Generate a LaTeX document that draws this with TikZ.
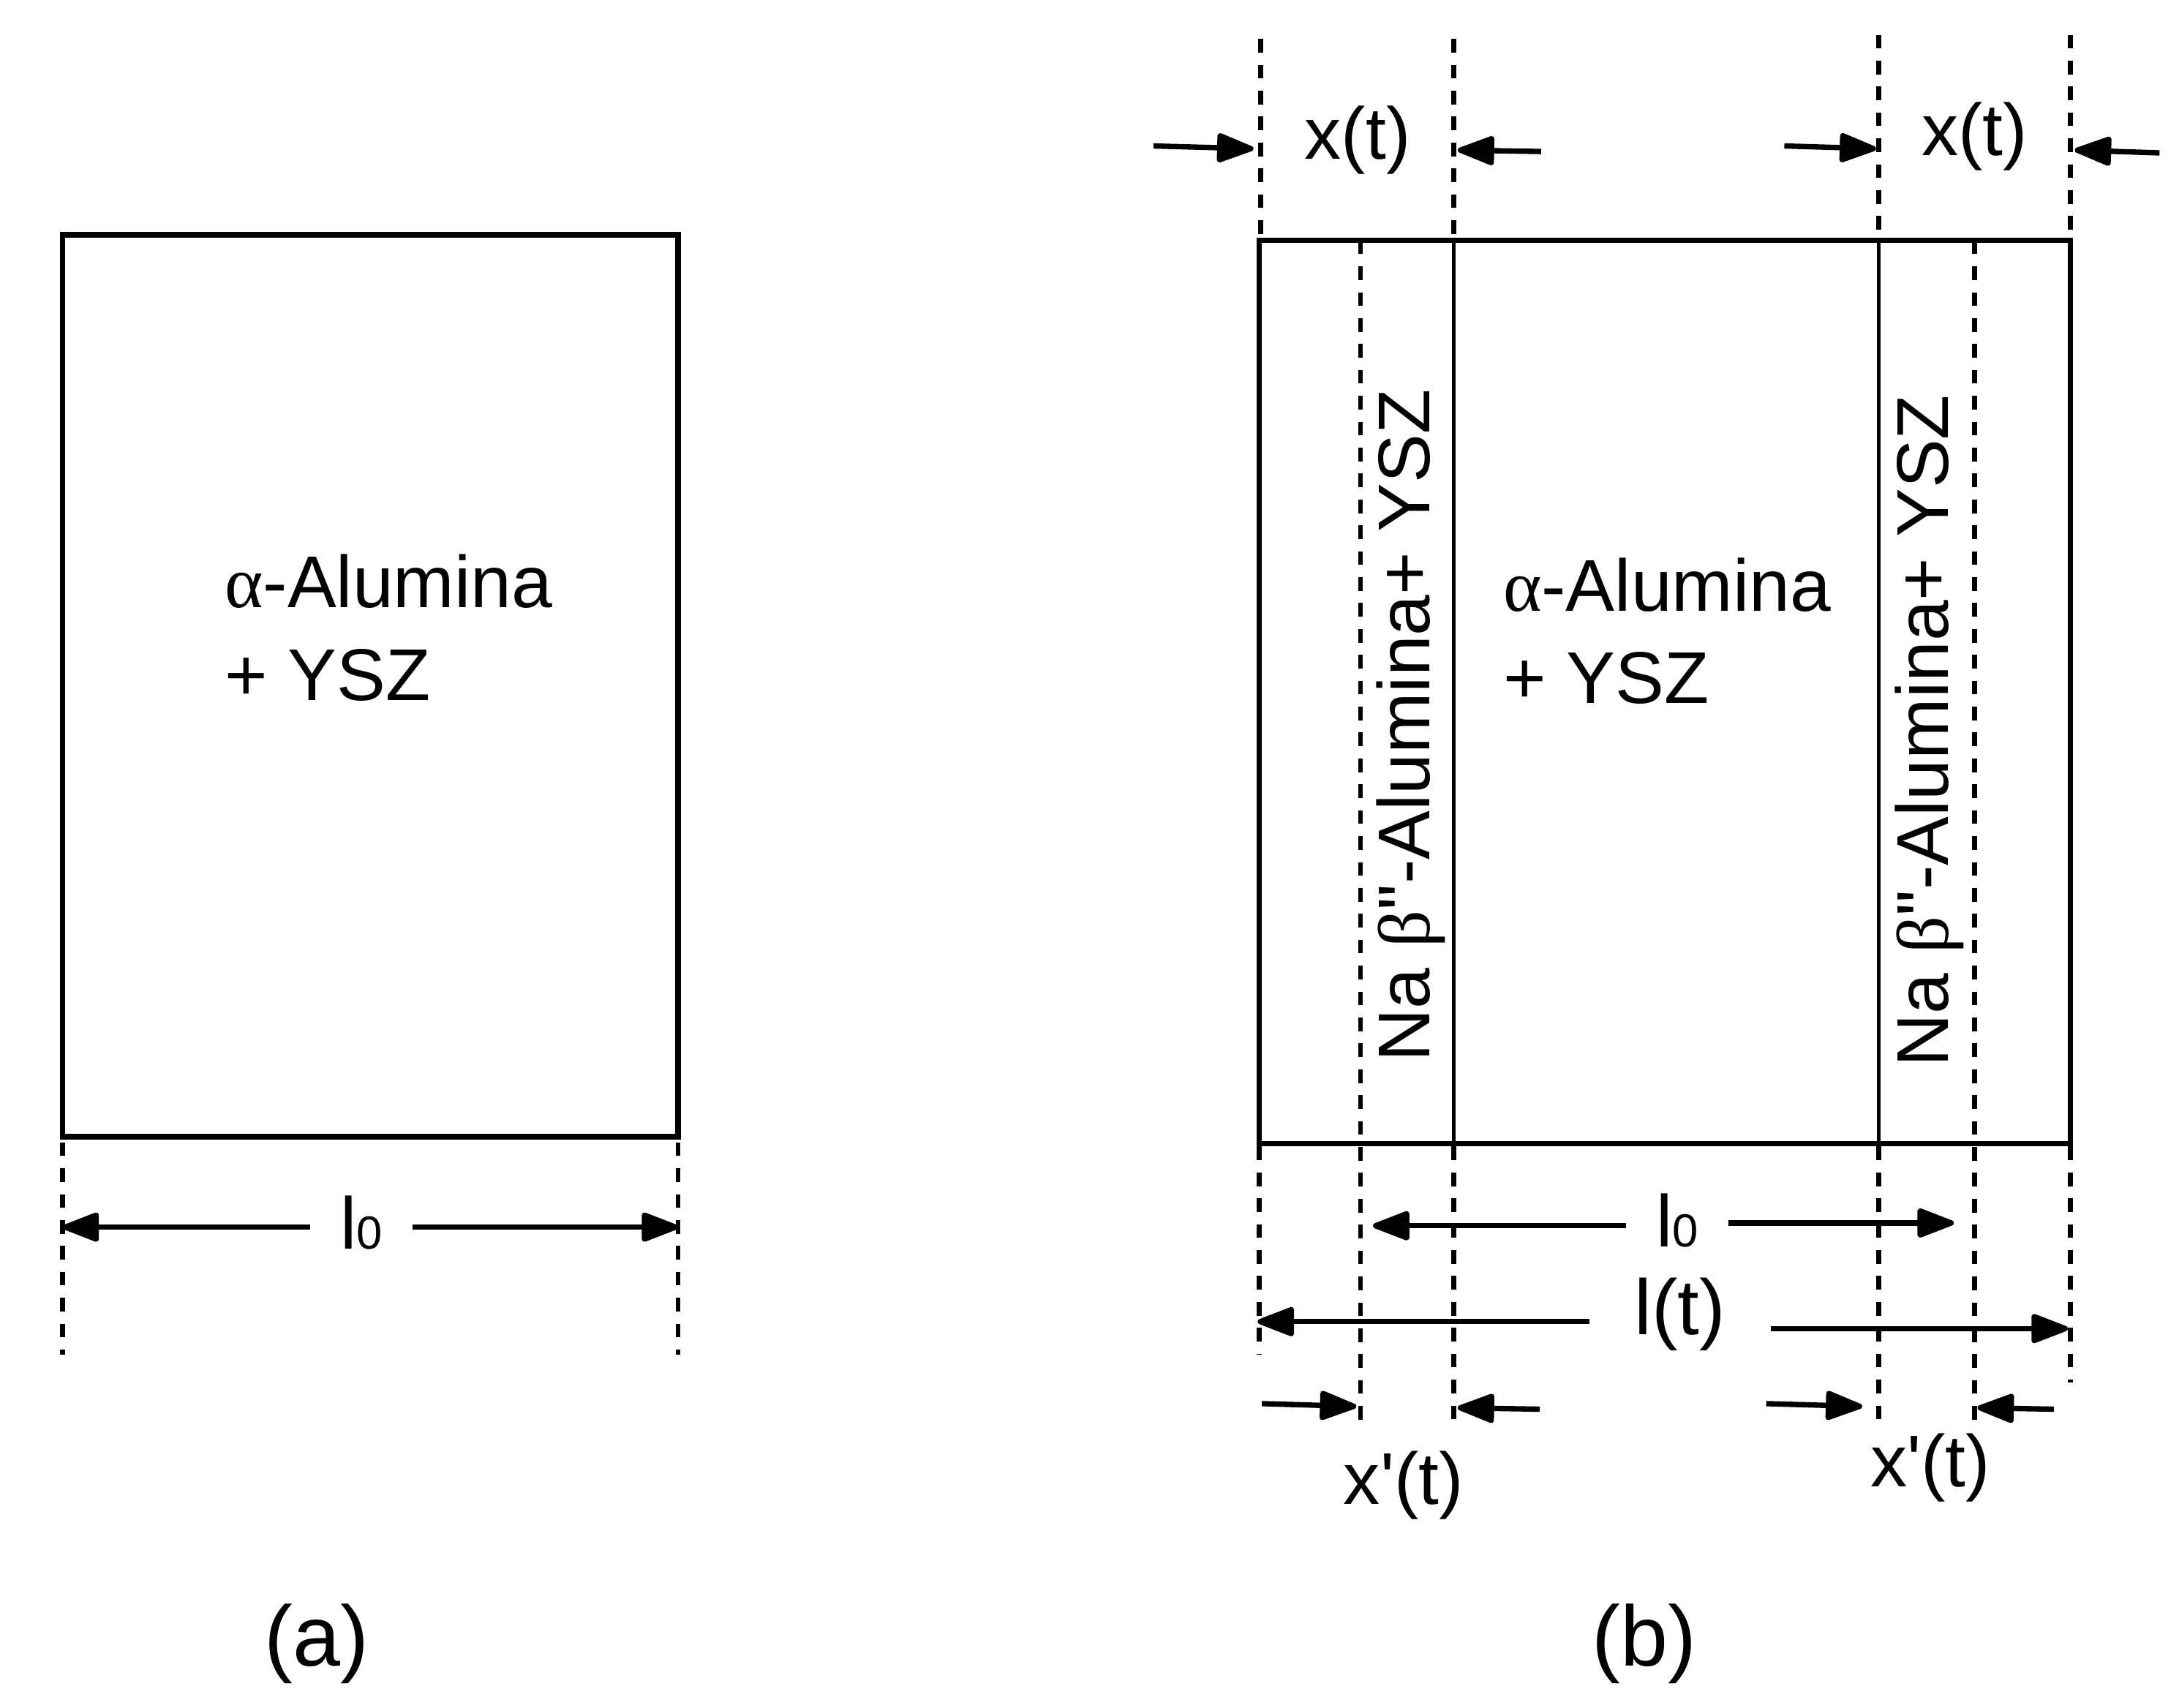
\documentclass[tikz,border=0pt]{standalone}
\usepackage{fontspec}
\setmainfont{Liberation Sans}
\newfontfamily\grk{Liberation Serif}
\usetikzlibrary{arrows.meta}

\tikzset{
	body/.style={line width=1.1pt},
	wall/.style={line width=0.75pt},
	guide/.style={line width=1pt, dash pattern=on 2.8pt off 2.5pt},
	dim/.style={line width=1.1pt, -{Triangle[length=8.5pt,width=6.2pt,round]}},
	lbl/.style={font=\fontsize{15}{18}\selectfont, inner sep=0pt},
	tag/.style={font=\fontsize{17.5}{21}\selectfont, inner sep=0pt},
}

\begin{document}
\begin{tikzpicture}[x=0.01cm, y=-0.01cm]

	\useasboundingbox (0,0) rectangle (1568,1229);

	% (a) starting sample
	\draw[body] (45,169) rectangle (488,818);
	\node[lbl, anchor=base west] (alA1) at (161,437) {{\grk α}-Alumina};
	\node[lbl, anchor=base west] (alA2) at (161,504) {+ YSZ};

	\foreach \x/\n in {45/aL, 488/aR}
	{
		\draw[guide] (\x,822) -- (\x,975);
		\coordinate (\n) at (\x,883);
	}
	\node[lbl, inner xsep=6pt] (lzA) at (260,880) {l{\fontsize{9.5}{10}\selectfont 0}};
	\draw[dim] (lzA.west |- aL) -- (aL);
	\draw[dim] (lzA.east |- aR) -- (aR);

	\node[tag] (tagA) at (228,1183) {(a)};

	% (b) after conversion
	\draw[body] (906,173) rectangle (1490,823);
	\foreach \x in {1046, 1352}
		\draw[wall] (\x,173) -- (\x,823);
	\foreach \x in {979, 1421}
		\draw[guide] (\x,173) -- (\x,1028);

	% guides above and below
	\foreach \x/\ya/\yb in {907/28/171, 1046/28/171, 1352/25/171, 1490/25/171}
		\draw[guide] (\x,\ya) -- (\x,\yb);
	\foreach \x/\yb in {906/975, 1046/1024, 1352/1023, 1490/995}
		\draw[guide] (\x,825) -- (\x,\yb);

	\node[lbl, rotate=90, anchor=base] (nbL) at (1029,522) {Na {\grk β}\textquotedbl-Alumina+ YSZ};
	\node[lbl, rotate=90, anchor=base] (nbR) at (1402,526) {Na {\grk β}\textquotedbl-Alumina+ YSZ};

	\node[lbl, anchor=base west] (alB1) at (1081,440) {{\grk α}-Alumina};
	\node[lbl, anchor=base west] (alB2) at (1081,506) {+ YSZ};

	% x(t) on top
	\node[lbl] (xtL) at (977,101) {x(t)};
	\node[lbl] (xtR) at (1421,98) {x(t)};
	\coordinate (t1s) at (830,105);  \coordinate (t1e) at (902,107);
	\coordinate (t2s) at (1109,109); \coordinate (t2e) at (1049,108);
	\coordinate (t3s) at (1284,105); \coordinate (t3e) at (1350,107);
	\coordinate (t4s) at (1554,110); \coordinate (t4e) at (1493,108);
	\foreach \k in {1,...,4}
		\draw[dim] (t\k s) -- (t\k e);

	% l0 and l(t)
	\coordinate (bL0) at (988,882);
	\coordinate (bR0) at (1406,880);
	\node[lbl, inner xsep=6pt] (lzB) at (1207,878) {l{\fontsize{9.5}{10}\selectfont 0}};
	\draw[dim] (lzB.west |- bL0) -- (bL0);
	\draw[dim] (lzB.east |- bR0) -- (bR0);

	\coordinate (bLt) at (905,951);
	\coordinate (bRt) at (1488,956);
	\node[lbl, inner xsep=9pt, font=\fontsize{16}{19}\selectfont] (ltB) at (1209,946) {l(t)};
	\draw[dim] (ltB.west |- bLt) -- (bLt);
	\draw[dim] (ltB.east |- bRt) -- (bRt);

	% x'(t) at the bottom
	\coordinate (u1s) at (908,1010);  \coordinate (u1e) at (976,1012);
	\coordinate (u2s) at (1108,1014); \coordinate (u2e) at (1049,1013);
	\coordinate (u3s) at (1271,1010); \coordinate (u3e) at (1340,1012);
	\coordinate (u4s) at (1478,1014); \coordinate (u4e) at (1423,1013);
	\foreach \k in {1,...,4}
		\draw[dim] (u\k s) -- (u\k e);
	\node[lbl] (xpL) at (1010,1069) {x\textquotesingle(t)};
	\node[lbl] (xpR) at (1389,1056) {x\textquotesingle(t)};

	\node[tag] (tagB) at (1183,1183) {(b)};

\end{tikzpicture}
\end{document}
